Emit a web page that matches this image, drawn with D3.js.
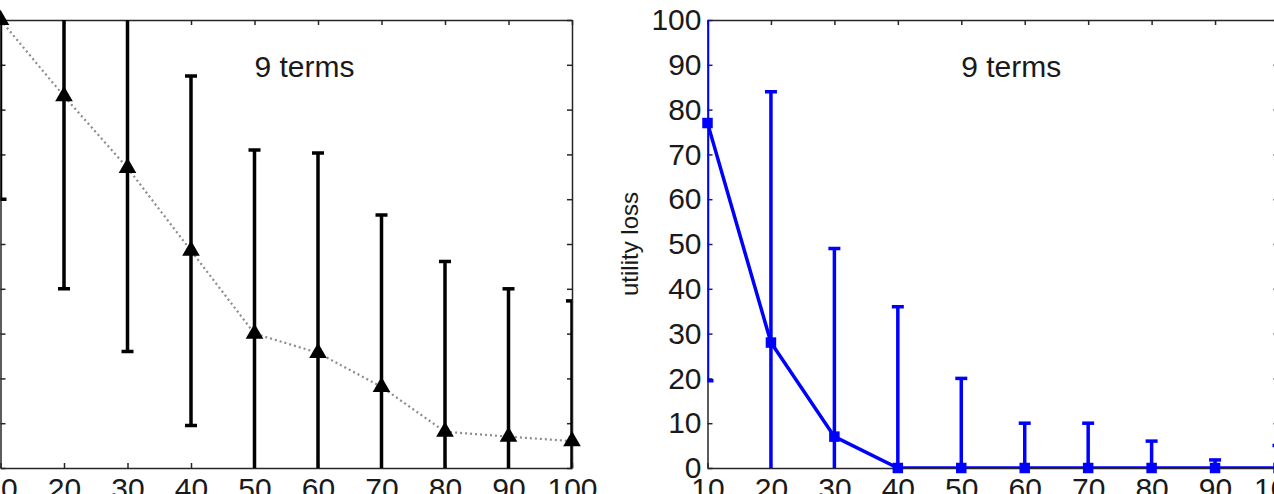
<!DOCTYPE html>
<html>
<head>
<meta charset="utf-8">
<script src="https://cdn.jsdelivr.net/npm/d3@7"></script>
<style>
  body { margin: 0; background: #fff; }
  svg { display: block; font-family: "Liberation Sans", Arial, sans-serif; }
  .axis path, .axis line { stroke: #262626; stroke-width: 1.5; }
  .axis text { font-size: 30px; fill: #1a1a1a; }
</style>
</head>
<body>
<svg width="1274" height="494"></svg>
<script>
// data
var terms = [10, 20, 30, 40, 50, 60, 70, 80, 90, 100];
var leftMean = [100, 83, 67, 48.5, 30, 25.7, 18.1, 8.1, 7, 6];
var leftErr  = [40, 43, 41, 39, 41, 44.6, 38.4, 38, 33, 31.3];
var rightMean = [77, 28, 7, 0, 0, 0, 0, 0, 0, 0];
var rightErr  = [57.5, 56, 42, 36, 20, 10, 10, 6, 1.8, 5];
var yTicks = [0, 10, 20, 30, 40, 50, 60, 70, 80, 90, 100];
var panelTitle = "9 terms";

var svg = d3.select("svg"),
    plotTop = 20, plotBottom = 468;

var y = d3.scaleLinear().domain([0, 100]).range([plotBottom, plotTop]);

function panel(id, x0, x1, mean, err, color, marker, lineStyle, showYLabels) {
  var x = d3.scaleLinear().domain([10, 100]).range([x0, x1]);

  svg.append("clipPath").attr("id", id)
    .append("rect")
      .attr("x", x0).attr("y", plotTop)
      .attr("width", x1 - x0).attr("height", plotBottom - plotTop);

  var g = svg.append("g");

  // box + inward ticks, matlab style
  g.append("g").attr("class", "axis")
      .attr("transform", "translate(0," + plotBottom + ")")
      .call(d3.axisBottom(x).tickValues(terms).tickSizeInner(-5).tickSizeOuter(0).tickPadding(10));
  g.append("g").attr("class", "axis")
      .attr("transform", "translate(0," + plotTop + ")")
      .call(d3.axisTop(x).tickValues(terms).tickSizeInner(-5).tickSizeOuter(0).tickFormat(""));
  g.append("g").attr("class", "axis")
      .attr("transform", "translate(" + x0 + ",0)")
      .call(d3.axisLeft(y).tickValues(yTicks).tickSizeInner(-5).tickSizeOuter(0).tickPadding(6)
        .tickFormat(showYLabels ? d3.format("d") : ""));
  g.append("g").attr("class", "axis")
      .attr("transform", "translate(" + x1 + ",0)")
      .call(d3.axisRight(y).tickValues(yTicks).tickSizeInner(-5).tickSizeOuter(0).tickFormat(""));

  var data = terms.map(function(t, i) { return {t: t, m: mean[i], e: err[i]}; });

  var clipped = g.append("g").attr("clip-path", "url(#" + id + ")");

  var line = d3.line()
      .x(function(d) { return x(d.t); })
      .y(function(d) { return y(d.m); });

  clipped.append("path")
      .datum(data)
      .attr("fill", "none")
      .attr("stroke", lineStyle.color)
      .attr("stroke-width", lineStyle.width)
      .attr("stroke-dasharray", lineStyle.dash)
      .attr("d", line);

  var bars = clipped.selectAll(".err")
    .data(data)
    .enter().append("g")
      .attr("class", "err")
      .attr("stroke", color)
      .attr("stroke-width", 3.5);

  bars.append("line")
      .attr("x1", function(d) { return x(d.t); })
      .attr("x2", function(d) { return x(d.t); })
      .attr("y1", function(d) { return y(d.m - d.e); })
      .attr("y2", function(d) { return y(d.m + d.e); });
  bars.append("line")
      .attr("x1", function(d) { return x(d.t) - 6; })
      .attr("x2", function(d) { return x(d.t) + 6; })
      .attr("y1", function(d) { return y(d.m + d.e); })
      .attr("y2", function(d) { return y(d.m + d.e); });
  bars.append("line")
      .attr("x1", function(d) { return x(d.t) - 6; })
      .attr("x2", function(d) { return x(d.t) + 6; })
      .attr("y1", function(d) { return y(d.m - d.e); })
      .attr("y2", function(d) { return y(d.m - d.e); });

  g.selectAll(".mark")
    .data(data)
    .enter().append("path")
      .attr("class", "mark")
      .attr("fill", color)
      .attr("transform", function(d) { return "translate(" + x(d.t) + "," + y(d.m) + ")"; })
      .attr("d", d3.symbol().type(marker.type).size(marker.size));

  g.append("text")
      .attr("x", x(50))
      .attr("y", y(87.3))
      .attr("font-size", 30)
      .attr("fill", "#1a1a1a")
      .text(panelTitle);

  return g;
}

panel("clipA", 0.5, 572, leftMean, leftErr, "#000",
  {type: d3.symbolTriangle, size: 135},
  {color: "#8c8c8c", width: 2.2, dash: "2,3"}, false);

var right = panel("clipB", 707.5, 1278.5, rightMean, rightErr, "#0000ff",
  {type: d3.symbolSquare, size: 110},
  {color: "#0000ff", width: 3.5, dash: null}, true);

right.append("text")
    .attr("transform", "translate(638," + (plotTop + plotBottom) / 2 + ") rotate(-90)")
    .attr("text-anchor", "middle")
    .attr("font-size", 24)
    .attr("fill", "#1a1a1a")
    .text("utility loss");
</script>
</body>
</html>
